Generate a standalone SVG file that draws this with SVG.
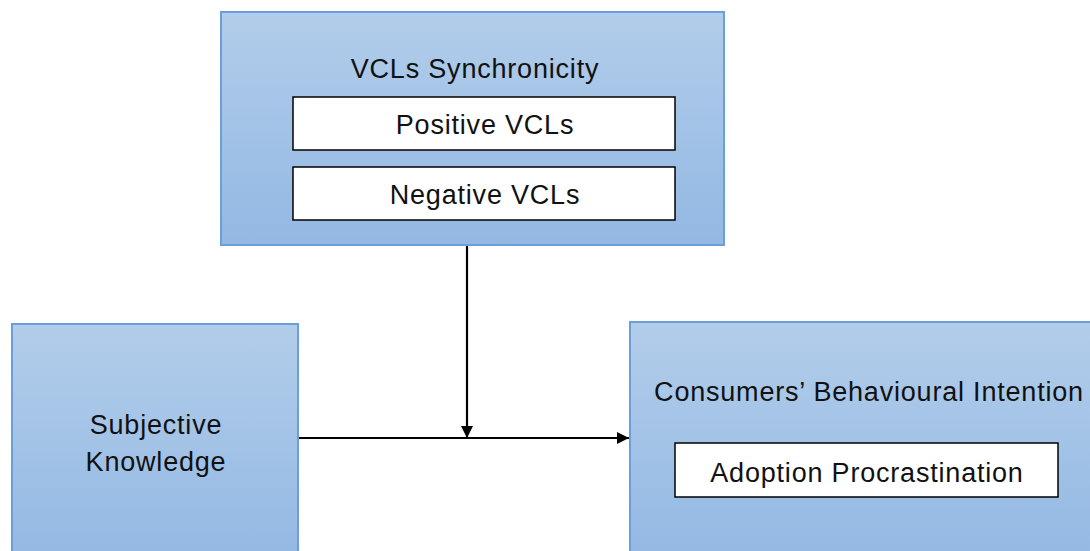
<svg xmlns="http://www.w3.org/2000/svg" width="1090" height="551" viewBox="0 0 1090 551">
  <style>
    .outer { stroke: #6a9fd9; stroke-width: 2; }
    .inner { fill: #ffffff; stroke: #000000; stroke-width: 1.5; }
    .lbl { font-family: "Liberation Sans", Arial, sans-serif; font-size: 27px; letter-spacing: 0.8px; fill: #111111; text-anchor: middle; }
    .conn { stroke: #000000; stroke-width: 2.2; fill: none; }
  </style>
  <defs>
    <linearGradient id="blueFill" x1="0" y1="0" x2="0" y2="1">
      <stop offset="0" stop-color="#b2cdea"/>
      <stop offset="1" stop-color="#93b8e3"/>
    </linearGradient>
    <marker id="arrow" viewBox="0 0 10 10" refX="10" refY="5" markerWidth="5.5" markerHeight="5.5" markerUnits="strokeWidth" orient="auto">
      <path d="M0,0 L10,5 L0,10 Z" fill="#000000"/>
    </marker>
  </defs>
  <rect width="1090" height="551" fill="#ffffff"/>

  <g id="vcls-synchronicity">
    <rect class="outer" x="221" y="12" width="503" height="233" fill="url(#blueFill)"/>
    <text class="lbl" x="475" y="78">VCLs Synchronicity</text>
    <g id="positive-vcls">
      <rect class="inner" x="293" y="97" width="382" height="53"/>
      <text class="lbl" x="485" y="134">Positive VCLs</text>
    </g>
    <g id="negative-vcls">
      <rect class="inner" x="293" y="167" width="382" height="53"/>
      <text class="lbl" x="485" y="204">Negative VCLs</text>
    </g>
  </g>

  <g id="subjective-knowledge">
    <rect class="outer" x="12" y="324" width="286" height="240" fill="url(#blueFill)"/>
    <text class="lbl" x="156" y="434">Subjective</text>
    <text class="lbl" x="156" y="471">Knowledge</text>
  </g>

  <g id="behavioural-intention">
    <rect class="outer" x="630" y="322" width="470" height="242" fill="url(#blueFill)"/>
    <text class="lbl" x="869" y="401">Consumers’ Behavioural Intention</text>
    <g id="adoption-procrastination">
      <rect class="inner" x="675" y="443" width="383" height="54"/>
      <text class="lbl" x="867" y="482">Adoption Procrastination</text>
    </g>
  </g>

  <g id="connectors">
    <line class="conn" x1="467" y1="246" x2="467" y2="438" marker-end="url(#arrow)"/>
    <line class="conn" x1="299" y1="438" x2="629" y2="438" marker-end="url(#arrow)"/>
  </g>
</svg>
